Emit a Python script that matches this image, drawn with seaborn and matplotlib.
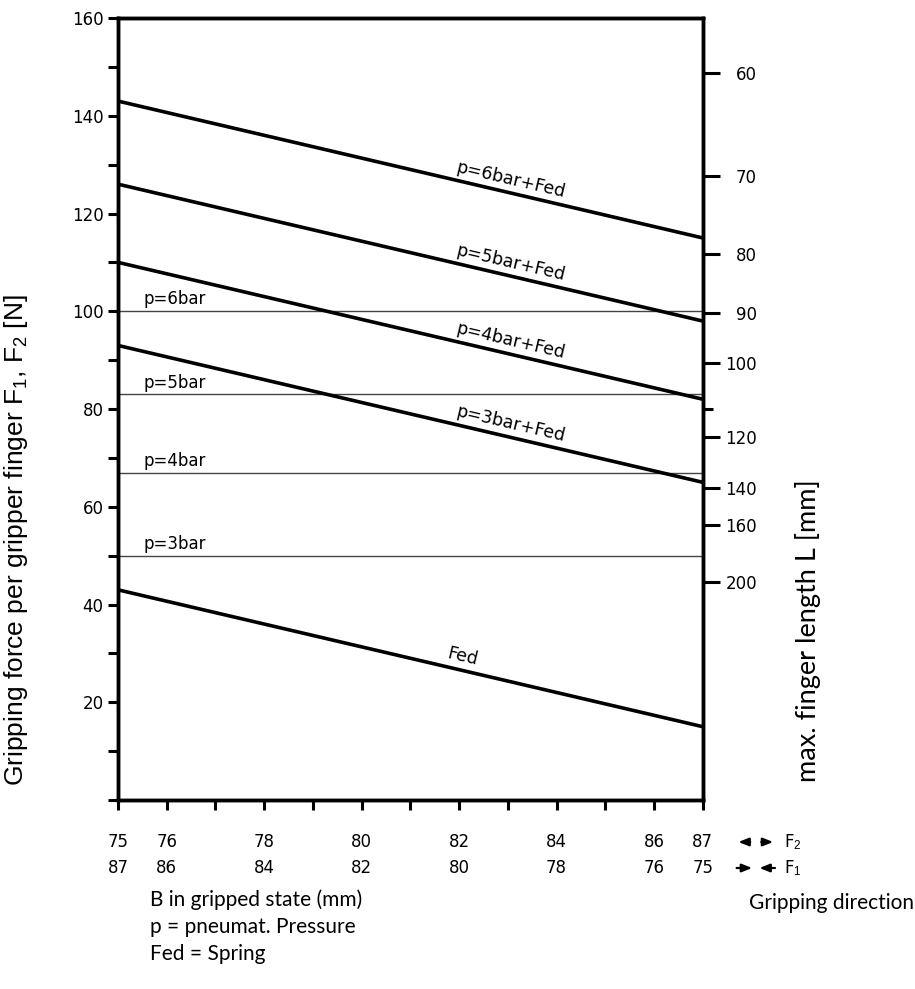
import numpy as np
import pandas as pd
import matplotlib
matplotlib.use('Agg')
import matplotlib.pyplot as plt
from matplotlib.patches import FancyArrowPatch
import seaborn as sns

# B in gripped state (mm): F2 row on top, F1 row below
b_ticks = [75, 76, 78, 80, 82, 84, 86, 87]
b_f2 = ['75', '76', '78', '80', '82', '84', '86', '87']
b_f1 = ['87', '86', '84', '82', '80', '78', '76', '75']
b_ends = [75, 87]

# pneumatic + spring curves (force at B=75 and B=87)
curve_names = ['Fed', 'p=3bar+Fed', 'p=4bar+Fed', 'p=5bar+Fed', 'p=6bar+Fed']
fed = [43, 15]
p3_fed = [93, 65]
p4_fed = [110, 82]
p5_fed = [126, 98]
p6_fed = [143, 115]

# pneumatic only (constant over B)
p_names = ['p=3bar', 'p=4bar', 'p=5bar', 'p=6bar']
p_force = [50, 67, 83, 100]

# right axis: max. finger length and where it sits on the force scale
finger_len = [60, 70, 80, 90, 100, 120, 140, 160, 200]
finger_pos = [148.7, 127.7, 111.7, 99.7, 89.4, 74.2, 63.8, 56.3, 44.7]
finger_minor = [80.1]   # unlabeled 110 mm tick

sns.set_style('ticks')
plt.rcParams['font.family'] = ['DejaVu Sans']
plt.rcParams['text.color'] = 'black'
plt.rcParams['xtick.color'] = 'black'
plt.rcParams['ytick.color'] = 'black'
plt.rcParams['xtick.labelcolor'] = 'black'
plt.rcParams['ytick.labelcolor'] = 'black'
plt.rcParams['mathtext.fontset'] = 'custom'
plt.rcParams['mathtext.rm'] = 'Liberation Sans'
plt.rcParams['mathtext.it'] = 'Liberation Sans'

num_font = dict(family='DejaVu Sans', size=12, weight='normal', color='black')

rows = []
for name, vals in zip(curve_names, [fed, p3_fed, p4_fed, p5_fed, p6_fed]):
    for b, f in zip(b_ends, vals):
        rows.append({'B': b, 'F': f, 'curve': name})
df_curves = pd.DataFrame(rows)

rows = []
for name, f in zip(p_names, p_force):
    for b in b_ends:
        rows.append({'B': b, 'F': f, 'curve': name})
df_p = pd.DataFrame(rows)

fig = plt.figure(figsize=(9.15, 9.89), dpi=100)
ax = fig.add_axes([0.129, 0.1911, 0.639, 0.7907])

sns.lineplot(data=df_p, x='B', y='F', hue='curve', palette=['#444444'] * 4,
             linewidth=1.0, legend=False, ax=ax)
sns.lineplot(data=df_curves, x='B', y='F', hue='curve', palette=['black'] * 5,
             linewidth=2.6, legend=False, ax=ax)

ax.set_xlim(75, 87)
ax.set_ylim(0, 160)
ax.set_xlabel('')
ax.set_ylabel('')

for s in ax.spines.values():
    s.set_visible(True)
    s.set_linewidth(2.5)
    s.set_color('black')

# left axis ticks
yt = list(range(0, 161, 20))
ax.set_yticks(yt)
ax.set_yticklabels([''] + [str(v) for v in yt[1:]], fontdict=num_font)
ax.set_yticks(list(range(10, 160, 20)), minor=True)
ax.tick_params(axis='y', which='both', direction='out', length=7.5, width=2.2,
               pad=3, color='black')

# bottom axis ticks, two rows of labels
ax.set_xticks(list(range(75, 88)), minor=True)
ax.set_xticks(b_ticks)
ax.set_xticklabels([f'{a}\n{b}' for a, b in zip(b_f2, b_f1)], fontdict=num_font,
                   linespacing=1.6)
ax.tick_params(axis='x', which='both', direction='out', length=7.5, width=2.2,
               pad=16, color='black')

# right axis: finger length
ax2 = ax.twinx()
ax2.set_ylim(0, 160)
ax2.set_yticks(finger_pos)
ax2.set_yticklabels([str(v) for v in finger_len], fontdict=num_font, ha='right')
ax2.set_yticks(finger_minor, minor=True)
ax2.tick_params(axis='y', which='major', direction='out', length=12, width=2.2,
                pad=27, color='black')
ax2.tick_params(axis='y', which='minor', direction='out', length=7.5, width=2.2,
                color='black')
for s in ax2.spines.values():
    s.set_linewidth(2.5)
    s.set_color('black')

# line labels along slanted curves
label_x = [82, 83, 83, 83, 83]
for name, vals, lx in zip(curve_names, [fed, p3_fed, p4_fed, p5_fed, p6_fed], label_x):
    slope = (vals[1] - vals[0]) / (b_ends[1] - b_ends[0])
    ly = vals[0] + slope * (lx - b_ends[0])
    p1 = ax.transData.transform((b_ends[0], vals[0]))
    p2 = ax.transData.transform((b_ends[1], vals[1]))
    ang = np.degrees(np.arctan2(p2[1] - p1[1], p2[0] - p1[0]))
    off = 3.0
    dx = -off * np.sin(np.radians(ang))
    dy = off * np.cos(np.radians(ang))
    ax.annotate(name, (lx, ly), xytext=(dx, dy), textcoords='offset points',
                rotation=ang, rotation_mode='anchor', ha='center', va='bottom',
                fontsize=12.5, family='DejaVu Sans', color='black')

for name, f in zip(p_names, p_force):
    ax.annotate(name, (75.52, f), xytext=(0, 2), textcoords='offset points',
                ha='left', va='bottom', fontsize=12, family='DejaVu Sans',
                color='black')

# axis titles
fig.text(0.018, 0.454, 'Gripping force per gripper finger F$_1$, F$_2$ [N]',
         rotation=90, ha='center', va='center', fontsize=19, family='Liberation Sans')
fig.text(0.883, 0.362, 'max. finger length L [mm]', rotation=90, ha='center',
         va='center', fontsize=19.5, family='Lato')

# gripping direction arrows
yf2 = 1 - 842 / 989
yf1 = 1 - 868 / 989
head = '-|>,head_length=0.5,head_width=0.2'
for x0, x1, yy in [(0.823, 0.804, yf2), (0.829, 0.848, yf2),
                   (0.802, 0.825, yf1), (0.850, 0.827, yf1)]:
    fig.add_artist(FancyArrowPatch((x0, yy), (x1, yy), transform=fig.transFigure,
                                   arrowstyle=head, color='black', lw=1.6,
                                   mutation_scale=12))
fig.text(0.857, yf2, 'F$_2$', ha='left', va='center', fontsize=12)
fig.text(0.857, yf1, 'F$_1$', ha='left', va='center', fontsize=12)

fig.text(0.164, 1 - 900 / 989, 'B in gripped state (mm)', ha='left', va='center',
         fontsize=15, family='Lato')
fig.text(0.164, 1 - 927 / 989, 'p = pneumat. Pressure', ha='left', va='center',
         fontsize=15, family='Lato')
fig.text(0.164, 1 - 954 / 989, 'Fed = Spring', ha='left', va='center',
         fontsize=15, family='Lato')
fig.text(0.819, 1 - 903 / 989, 'Gripping direction', ha='left', va='center',
         fontsize=15, family='Lato')

fig.savefig('out.png', dpi=100)
